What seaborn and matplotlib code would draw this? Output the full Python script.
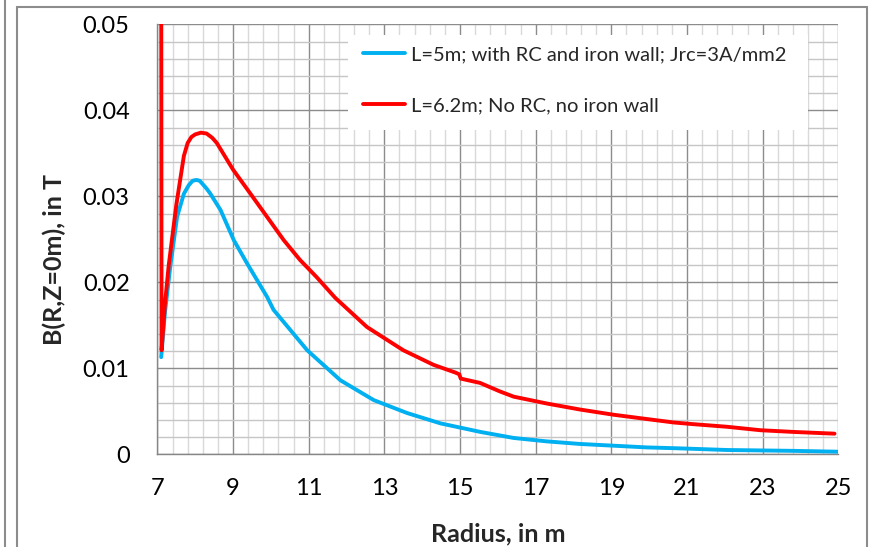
import numpy as np
import matplotlib
matplotlib.use('Agg')
import matplotlib.pyplot as plt
import seaborn as sns
from matplotlib.ticker import MultipleLocator, FuncFormatter
from matplotlib.patches import Rectangle
from matplotlib.lines import Line2D

# ─────────────────────────────────────────
# DATA
# ─────────────────────────────────────────
radius_red = [7.10, 7.11, 7.20, 7.30, 7.50, 7.70, 7.80, 7.90, 8.00, 8.15, 8.30,
              8.45, 8.57, 9.00, 9.46, 9.90, 10.34, 10.77, 11.21, 11.70, 12.54,
              13.50, 14.30, 14.88, 14.98, 15.02, 15.53, 16.06, 16.42, 17.30,
              18.18, 19.06, 19.94, 20.65, 21.18, 22.06, 22.94, 23.82, 24.90]
b_red = [0.060, 0.0121, 0.0175, 0.0220, 0.0290, 0.0347, 0.0362, 0.0369, 0.0372,
         0.0374, 0.0373, 0.0368, 0.0362, 0.0331, 0.0303, 0.0276, 0.0249,
         0.0226, 0.0206, 0.0182, 0.0148, 0.0121, 0.0104, 0.0095, 0.0093,
         0.0088, 0.0083, 0.0073, 0.0067, 0.0059, 0.0052, 0.0046, 0.0041,
         0.0037, 0.0035, 0.0032, 0.0028, 0.0026, 0.0024]

radius_blue = [7.10, 7.20, 7.34, 7.52, 7.70, 7.83, 7.93, 8.03, 8.12, 8.20, 8.30,
               8.40, 8.67, 9.02, 9.37, 9.90, 10.07, 10.96, 11.84, 12.72, 13.60,
               14.48, 15.54, 16.42, 17.30, 18.18, 19.06, 19.94, 20.74, 22.06,
               23.82, 25.00]
b_blue = [0.0113, 0.0165, 0.0218, 0.0276, 0.0303, 0.0313, 0.0318, 0.0319,
          0.0318, 0.0314, 0.0309, 0.0303, 0.0284, 0.0249, 0.0222, 0.0183,
          0.0168, 0.0121, 0.0086, 0.0063, 0.0048, 0.0036, 0.0026, 0.0019,
          0.0015, 0.0012, 0.0010, 0.0008, 0.0007, 0.0005, 0.0004, 0.0003]

x_ticks = [7, 9, 11, 13, 15, 17, 19, 21, 23, 25]

label_blue = 'L=5m; with RC and iron wall; Jrc=3A/mm2'
label_red = 'L=6.2m; No RC, no iron wall'

# ─────────────────────────────────────────
# STYLE
# ─────────────────────────────────────────
sns.set_style('white')
plt.rcParams['font.family'] = ['Lato', 'DejaVu Sans']

W, H = 873, 547
fig = plt.figure(figsize=(W / 100, H / 100), dpi=100)
x0, x1, y0, y1 = 157.4, 838.3, 24.3, 454.3
ax = fig.add_axes([x0 / W, 1 - y1 / H, (x1 - x0) / W, (y1 - y0) / H])

# white box behind the legend
ax.add_patch(Rectangle((0.280, 0.754), 0.675, 0.221, transform=ax.transAxes,
                       facecolor='white', edgecolor='none', zorder=1.5))

sns.lineplot(x=radius_blue, y=b_blue, ax=ax, color='#00B0F0', lw=2.8,
             sort=False, estimator=None, label=label_blue, zorder=3)
sns.lineplot(x=radius_red, y=b_red, ax=ax, color='#FF0000', lw=2.8,
             sort=False, estimator=None, label=label_red, zorder=3)

ax.set_xlim(7, 25)
ax.set_ylim(0, 0.05)
ax.set_xticks(x_ticks)
ax.xaxis.set_minor_locator(MultipleLocator(0.4, offset=7))
ax.yaxis.set_major_locator(MultipleLocator(0.01))
ax.yaxis.set_minor_locator(MultipleLocator(0.002))
ax.yaxis.set_major_formatter(FuncFormatter(lambda v, p: '0' if abs(v) < 1e-9 else f'{v:.2f}'))

ax.set_axisbelow(True)
ax.grid(which='major', color='#8c8c8c', lw=1.0)
ax.xaxis.grid(which='minor', color='#d9d9d9', lw=1.0)
ax.yaxis.grid(which='minor', color='#c6c6c6', lw=1.0)

for s in ['top', 'right']:
    ax.spines[s].set_visible(False)
for s in ['left', 'bottom']:
    ax.spines[s].set_color('#868686')
    ax.spines[s].set_linewidth(1.0)

ax.tick_params(which='major', direction='out', length=5, width=1, color='#868686',
               labelsize=17, labelcolor='black')
ax.tick_params(axis='y', which='major', pad=15)
ax.tick_params(axis='x', which='major', pad=12)
ax.tick_params(which='minor', length=0)

ax.set_xlabel('Radius, in m', fontsize=18, fontweight='bold')
ax.set_ylabel('B(R,Z=0m), in T', fontsize=18, fontweight='bold')
ax.xaxis.set_label_coords(0.5, -0.158)
ax.yaxis.set_label_coords(-0.134, 0.452)

ax.legend(loc='upper left', bbox_to_anchor=(0.302, 0.95), frameon=False,
          fontsize=14.5, handlelength=2.1, handletextpad=0.3, labelspacing=1.7,
          borderpad=0, borderaxespad=0)

# outer chart borders
bc = '#8c8c8c'
fig.add_artist(Line2D([5 / W, 5 / W], [0, 1], transform=fig.transFigure, color=bc, lw=1.5))
fig.add_artist(Line2D([17 / W, 17 / W], [0, 1 - 7 / H], transform=fig.transFigure, color=bc, lw=1.5))
fig.add_artist(Line2D([17 / W, 867 / W], [1 - 7 / H, 1 - 7 / H], transform=fig.transFigure, color=bc, lw=1.5))
fig.add_artist(Line2D([867 / W, 867 / W], [0, 1 - 7 / H], transform=fig.transFigure, color=bc, lw=1.5))

fig.savefig('out.png', dpi=100)
